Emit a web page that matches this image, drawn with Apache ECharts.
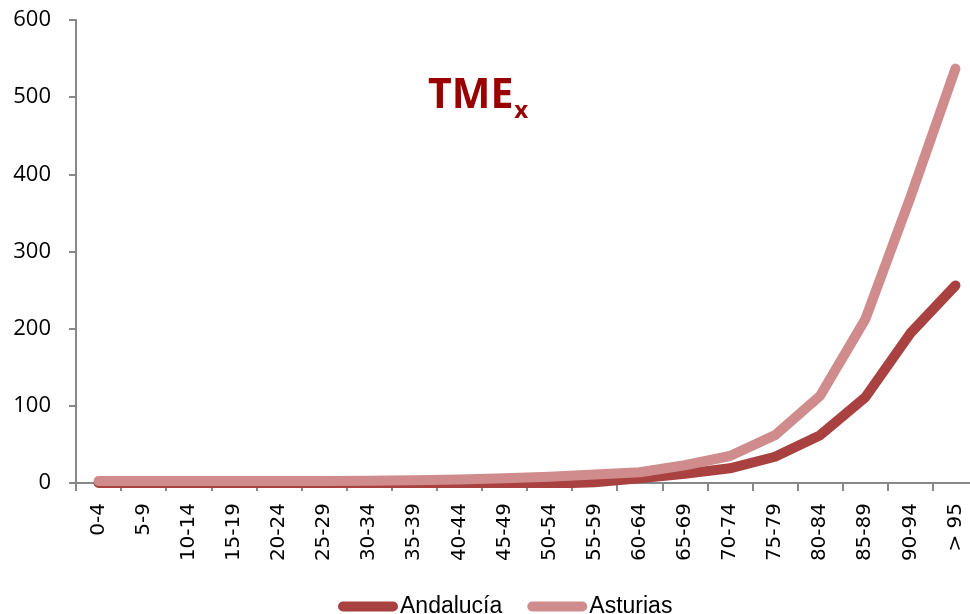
<!DOCTYPE html>
<html>
<head>
<meta charset="utf-8">
<script src="https://cdn.jsdelivr.net/npm/echarts@6/dist/echarts.min.js"></script>
<style>
  html, body { margin: 0; padding: 0; background: #fff; }
  #grafico { width: 970px; height: 614px; }
</style>
</head>
<body>
<div id="grafico"></div>
<script>
var edades = ['0-4', '5-9', '10-14', '15-19', '20-24', '25-29', '30-34', '35-39', '40-44', '45-49',
  '50-54', '55-59', '60-64', '65-69', '70-74', '75-79', '80-84', '85-89', '90-94', '> 95'];
var andalucia = [0, 0, 0, 0, 0, 0, 0, 0, 0, -1, -1, 1, 6, 12, 19, 34, 62, 111, 194, 256];
var asturias = [2.5, 2.5, 2.5, 2.5, 2.5, 2.5, 3, 3.5, 4.5, 6, 8, 11, 14, 23, 35, 62, 113, 212, 370, 537];
var ticksY = [0, 100, 200, 300, 400, 500, 600];

var chartDom = document.getElementById('grafico');
var myChart = echarts.init(chartDom);
var option;

var iconoLinea = 'path://M5,0 L55,0 A5,5 0 0 1 55,10 L5,10 A5,5 0 0 1 5,0 Z';

option = {
  animation: false,
  title: {
    text: '{a|TME}{b|x}',
    left: 423,
    top: 64,
    textStyle: {
      rich: {
        a: { fontFamily: 'Open Sans', fontWeight: 'bold', fontSize: 41, color: '#990000' },
        b: { fontFamily: 'Open Sans', fontWeight: 'bold', fontSize: 24, color: '#990000', padding: [30, 0, 0, 1] }
      }
    }
  },
  grid: {
    left: 76,
    width: 902,
    top: 20,
    bottom: 131,
    outerBoundsMode: 'none'
  },
  legend: {
    left: 333,
    top: 590,
    itemWidth: 60,
    itemHeight: 10,
    itemGap: 25,
    data: [
      { name: 'Andalucía', icon: iconoLinea },
      { name: 'Asturias', icon: iconoLinea }
    ],
    textStyle: {
      fontFamily: 'Liberation Sans Narrow, Liberation Sans',
      fontSize: 23,
      color: '#000',
      padding: [0, 0, 0, -3]
    }
  },
  xAxis: {
    type: 'category',
    data: edades,
    boundaryGap: true,
    axisLine: { lineStyle: { color: '#888', width: 2 } },
    axisTick: { show: true, length: 8, lineStyle: { color: '#888', width: 2 } },
    axisLabel: {
      rotate: 90,
      interval: 0,
      margin: 20,
      fontFamily: 'DejaVu Sans',
      fontSize: 20,
      color: '#000'
    }
  },
  yAxis: {
    type: 'value',
    min: ticksY[0],
    max: ticksY[ticksY.length - 1],
    interval: 100,
    axisLine: { show: true, lineStyle: { color: '#888', width: 2 } },
    axisTick: { show: true, length: 7, lineStyle: { color: '#888', width: 2 } },
    splitLine: { show: false },
    axisLabel: {
      margin: 25,
      fontFamily: 'Open Sans',
      fontSize: 22,
      color: '#000'
    }
  },
  series: [
    {
      name: 'Andalucía',
      type: 'line',
      data: andalucia,
      symbol: 'none',
      color: '#A8413F',
      lineStyle: { width: 10, cap: 'round', join: 'round', color: '#A8413F' }
    },
    {
      name: 'Asturias',
      type: 'line',
      data: asturias,
      symbol: 'none',
      color: '#D08C8C',
      lineStyle: { width: 10, cap: 'round', join: 'round', color: '#D08C8C' }
    }
  ]
};

option && myChart.setOption(option);
</script>
</body>
</html>
